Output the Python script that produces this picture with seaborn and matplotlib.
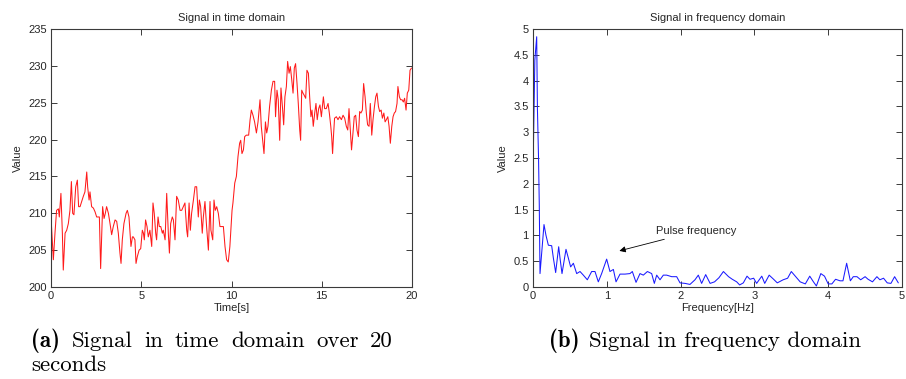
import numpy as np
import pandas as pd
import matplotlib
matplotlib.use("Agg")
import matplotlib.pyplot as plt
import seaborn as sns

# ---------------- data ----------------
time_s = [
    0.00, 0.13, 0.22, 0.31, 0.41, 0.46, 0.55, 0.63, 0.68, 0.78, 0.87, 0.96, 1.05, 1.13, 1.20, 1.27,
    1.37, 1.46, 1.53, 1.61, 1.70, 1.79, 1.88, 1.98, 2.03, 2.11, 2.16, 2.25, 2.35, 2.44, 2.53, 2.62,
    2.68, 2.75, 2.81, 2.86, 2.94, 3.01, 3.08, 3.18, 3.27, 3.36, 3.45, 3.55, 3.64, 3.73, 3.82, 3.88,
    3.95, 4.04, 4.16, 4.23, 4.32, 4.38, 4.43, 4.51, 4.56, 4.65, 4.71, 4.78, 4.88, 4.97, 5.06, 5.12,
    5.17, 5.24, 5.32, 5.39, 5.48, 5.58, 5.65, 5.72, 5.80, 5.85, 5.93, 6.00, 6.08, 6.17, 6.22, 6.32,
    6.41, 6.50, 6.56, 6.63, 6.72, 6.78, 6.87, 6.96, 7.05, 7.15, 7.24, 7.33, 7.42, 7.52, 7.57, 7.65,
    7.72, 7.79, 7.89, 7.98, 8.07, 8.16, 8.22, 8.29, 8.38, 8.44, 8.53, 8.62, 8.72, 8.81, 8.86, 8.96,
    9.03, 9.10, 9.18, 9.27, 9.36, 9.46, 9.55, 9.64, 9.73, 9.82, 9.91, 9.96,
    10.03, 10.08, 10.18, 10.27, 10.36, 10.45, 10.51, 10.58, 10.66, 10.73, 10.82, 10.95, 11.03, 11.10,
    11.19, 11.28, 11.38, 11.47, 11.58, 11.65, 11.73, 11.80, 11.88, 11.95, 12.02, 12.11, 12.21, 12.30,
    12.39, 12.44, 12.52, 12.59, 12.67, 12.74, 12.82, 12.89, 12.96, 13.04, 13.11, 13.19, 13.26, 13.33,
    13.41, 13.48, 13.55, 13.63, 13.70, 13.78, 13.83, 13.89, 13.96, 14.03, 14.11, 14.18, 14.26, 14.33,
    14.40, 14.46, 14.53, 14.61, 14.68, 14.75, 14.83, 14.90, 14.98,
    15.09, 15.16, 15.25, 15.35, 15.42, 15.50, 15.55, 15.60, 15.66, 15.71, 15.81, 15.90, 15.99, 16.09,
    16.18, 16.27, 16.36, 16.44, 16.51, 16.58, 16.65, 16.73, 16.80, 16.88, 16.95, 17.03, 17.10, 17.17,
    17.25, 17.32, 17.40, 17.47, 17.54, 17.62, 17.69, 17.77, 17.84, 17.92, 17.99, 18.06, 18.14, 18.21,
    18.29, 18.36, 18.44, 18.51, 18.58, 18.66, 18.73, 18.80, 18.88, 18.95, 19.02, 19.09, 19.17, 19.22,
    19.30, 19.37, 19.45, 19.52, 19.59, 19.67, 19.74, 19.82, 19.89, 19.97,
]
signal_value = [
    209.5, 203.7, 207.3, 210.4, 210.6, 209.5, 212.7, 207.3, 202.3, 207.3, 207.7, 208.6, 210.4, 214.3, 210.0, 209.8,
    213.6, 214.5, 210.9, 210.9, 211.6, 212.3, 212.9, 215.6, 213.6, 211.8, 212.9, 210.9, 210.7, 210.2, 209.5, 209.5,
    209.5, 202.5, 207.3, 210.9, 209.3, 210.0, 210.9, 210.0, 208.6, 207.1, 208.2, 209.1, 208.9, 207.3, 204.6, 203.2,
    206.4, 208.6, 210.0, 210.4, 209.5, 207.3, 205.5, 206.8, 206.8, 206.4, 203.2, 204.1, 205.0, 205.2, 207.7, 207.3,
    206.4, 209.1, 208.2, 206.8, 207.7, 205.5, 211.4, 210.0, 207.3, 206.4, 209.5, 208.2, 208.2, 207.3, 207.7, 206.4,
    212.7, 207.3, 204.6, 208.6, 209.5, 209.1, 206.4, 212.3, 211.8, 210.4, 210.4, 210.9, 211.4, 207.7, 206.8, 211.4,
    207.7, 210.0, 211.8, 213.6, 213.6, 209.5, 211.8, 210.9, 207.3, 209.5, 211.6, 208.2, 205.0, 211.6, 207.7, 206.4,
    211.8, 210.4, 210.9, 210.0, 208.2, 208.2, 208.2, 205.5, 203.7, 203.4, 205.5, 207.5,
    210.4, 211.4, 214.1, 215.0, 217.7, 219.5, 219.9, 218.1, 218.6, 220.4, 220.6, 220.6, 222.7, 224.0,
    223.3, 222.4, 220.9, 222.4, 225.4, 221.8, 219.9, 218.1, 222.4, 220.9, 221.8, 224.5, 226.7, 227.9,
    227.9, 223.1, 226.7, 225.4, 219.9, 227.0, 224.5, 222.0, 225.8, 227.2, 230.6, 229.0, 229.9, 228.3,
    226.3, 229.7, 230.3, 227.6, 224.9, 221.3, 219.9, 226.7, 226.3, 226.0, 225.6, 229.4, 229.0, 225.8,
    223.1, 224.0, 221.8, 223.6, 224.9, 222.7, 224.2, 224.7, 223.1,
    225.8, 224.2, 224.2, 224.9, 223.6, 221.8, 220.4, 218.1, 220.9, 222.9, 223.1, 222.7, 223.1, 222.7,
    223.3, 222.9, 221.8, 221.3, 224.2, 221.3, 218.6, 220.9, 223.1, 223.3, 221.3, 220.4, 223.8, 223.6,
    224.0, 227.6, 225.8, 223.6, 222.0, 221.8, 224.9, 220.6, 222.7, 224.5, 225.8, 226.3, 224.5, 223.8,
    224.0, 222.9, 223.6, 222.4, 222.7, 223.1, 221.8, 219.5, 221.8, 223.1, 223.6, 223.8, 224.9, 227.2,
    225.8, 225.4, 225.4, 225.1, 225.6, 224.0, 226.3, 226.7, 229.4, 229.7,
]

freq_hz = [
    0.000, 0.005, 0.025, 0.050, 0.060, 0.075, 0.085, 0.095, 0.149, 0.176, 0.208, 0.253, 0.276, 0.307,
    0.348, 0.366, 0.393, 0.447, 0.479, 0.510, 0.547, 0.592, 0.637, 0.682, 0.736, 0.795, 0.840, 0.885,
    0.930, 0.998, 1.043, 1.089, 1.125, 1.179, 1.247, 1.314, 1.346, 1.396, 1.450, 1.495, 1.550, 1.608,
    1.644, 1.676, 1.721, 1.766, 1.811, 1.879, 1.947, 1.992, 2.060, 2.127, 2.195, 2.240, 2.285, 2.340,
    2.400, 2.460, 2.520, 2.580, 2.650, 2.700, 2.760, 2.800, 2.850, 2.900, 2.940, 2.990, 3.030, 3.100,
    3.140, 3.200, 3.260, 3.310, 3.390, 3.450, 3.500, 3.560, 3.620, 3.690, 3.750, 3.800, 3.840, 3.900,
    3.950, 4.000, 4.050, 4.100, 4.160, 4.200, 4.250, 4.300, 4.340, 4.390, 4.440, 4.500, 4.540, 4.600,
    4.660, 4.700, 4.750, 4.800, 4.850, 4.900, 4.950,
]
freq_value = [
    0.90, 2.65, 4.40, 4.85, 3.45, 2.50, 1.60, 0.26, 1.21, 1.00, 0.81, 0.80, 0.56, 0.28,
    0.78, 0.56, 0.26, 0.73, 0.56, 0.39, 0.46, 0.26, 0.30, 0.23, 0.14, 0.30, 0.30, 0.10,
    0.26, 0.54, 0.30, 0.34, 0.10, 0.25, 0.25, 0.26, 0.30, 0.09, 0.26, 0.23, 0.30, 0.26,
    0.07, 0.23, 0.14, 0.23, 0.23, 0.20, 0.20, 0.08, 0.07, 0.05, 0.14, 0.23, 0.07, 0.24,
    0.07, 0.10, 0.18, 0.30, 0.20, 0.15, 0.10, 0.04, 0.08, 0.21, 0.15, 0.17, 0.07, 0.21,
    0.07, 0.23, 0.15, 0.08, 0.14, 0.17, 0.30, 0.20, 0.10, 0.06, 0.21, 0.10, 0.02, 0.26,
    0.21, 0.06, 0.06, 0.15, 0.12, 0.12, 0.46, 0.12, 0.20, 0.20, 0.14, 0.20, 0.15, 0.10,
    0.20, 0.14, 0.17, 0.08, 0.07, 0.20, 0.08,
]

time_ticks = [0, 5, 10, 15, 20]
value_ticks_a = [200, 205, 210, 215, 220, 225, 230, 235]
freq_ticks = [0, 1, 2, 3, 4, 5]
value_ticks_b = [0, 0.5, 1, 1.5, 2, 2.5, 3, 3.5, 4, 4.5, 5]
value_tick_labels_b = ["0", "0.5", "1", "1.5", "2", "2.5", "3", "3.5", "4", "4.5", "5"]

caption_a_tag = "(a)"
caption_a_line1 = "Signal in time domain over 20"
caption_a_line2 = "seconds"
caption_b_tag = "(b)"
caption_b_text = "Signal in frequency domain"

df_time = pd.DataFrame({"Time[s]": time_s, "Value": signal_value})
df_freq = pd.DataFrame({"Frequency[Hz]": freq_hz, "Value": freq_value})

# ---------------- style ----------------
sns.set_theme(style="ticks")
plt.rcParams["font.family"] = ["Liberation Sans", "DejaVu Sans"]
plt.rcParams["axes.unicode_minus"] = False

W, H = 906, 379
fig = plt.figure(figsize=(W / 100, H / 100), dpi=100)
fig.patch.set_facecolor("white")


def frac_axes(x0, y0, x1, y1):
    return fig.add_axes([x0 / W, 1 - y1 / H, (x1 - x0) / W, (y1 - y0) / H])


ax1 = frac_axes(51, 29, 412, 287)
ax2 = frac_axes(533, 29, 902, 287)

tick_fs = 8
text_col = "#262626"

sns.lineplot(data=df_time, x="Time[s]", y="Value", ax=ax1, color="#ff1a1a",
             linewidth=0.75, estimator=None, sort=False)
sns.lineplot(data=df_freq, x="Frequency[Hz]", y="Value", ax=ax2, color="#1a1aff",
             linewidth=0.75, estimator=None, sort=False)

for ax in (ax1, ax2):
    ax.set_facecolor("white")
    for sp in ax.spines.values():
        sp.set_visible(True)
        sp.set_color("#3a3a3a")
        sp.set_linewidth(0.8)
    ax.tick_params(direction="in", length=4, width=0.7, color="#3a3a3a",
                   labelsize=tick_fs, labelcolor=text_col, top=True, right=True, pad=3)
    ax.grid(False)

ax1.set_xlim(0, 20)
ax1.set_ylim(200, 235)
ax1.set_xticks(time_ticks)
ax1.set_xticklabels([str(t) for t in time_ticks])
ax1.set_yticks(value_ticks_a)
ax1.set_yticklabels([str(v) for v in value_ticks_a])
ax1.set_xlabel("Time[s]", fontsize=tick_fs, color=text_col, labelpad=1)
ax1.set_ylabel("Value", fontsize=tick_fs, color=text_col, labelpad=4)
ax1.set_title("Signal in time domain", fontsize=tick_fs, color=text_col, pad=6)

ax2.set_xlim(0, 5)
ax2.set_ylim(0, 5)
ax2.set_xticks(freq_ticks)
ax2.set_xticklabels([str(t) for t in freq_ticks])
ax2.set_yticks(value_ticks_b)
ax2.set_yticklabels(value_tick_labels_b)
ax2.set_xlabel("Frequency[Hz]", fontsize=tick_fs, color=text_col, labelpad=1)
ax2.set_ylabel("Value", fontsize=tick_fs, color=text_col, labelpad=4)
ax2.set_title("Signal in frequency domain", fontsize=tick_fs, color=text_col, pad=6)

ax2.annotate("Pulse frequency", xy=(1.17, 0.70), xytext=(1.67, 1.085),
             fontsize=tick_fs, color=text_col, va="center", ha="left",
             arrowprops=dict(arrowstyle="-|>", color="black", lw=0.6,
                             mutation_scale=9, shrinkA=0, shrinkB=0))

# ---------------- captions (LaTeX-like, justified first line) ----------------
cap_fs = 16.5
renderer = fig.canvas.get_renderer()


def put(x_px, y_px, s, bold=False, ha="left"):
    return fig.text(x_px / W, 1 - y_px / H, s, fontfamily="cmb10" if bold else "cmr10",
                    fontsize=cap_fs, ha=ha, va="baseline", color="black")


# (a) first line justified between x=31 and x=393
base1, base2 = 347, 371
tag = put(31, base1, caption_a_tag, bold=True)
words = caption_a_line1.split(" ")
word_txts = [put(0, base1, w) for w in words]
fig.canvas.draw()
tag_w = tag.get_window_extent(renderer=renderer).width
ws = [t.get_window_extent(renderer=renderer).width for t in word_txts]
left, right = 31, 393
gap = (right - left - tag_w - sum(ws)) / len(words)
x = left + tag_w + gap
for t, w in zip(word_txts, ws):
    t.set_x(x / W)
    x += w + gap
put(31, base2, caption_a_line2)

# (b) centred caption
tag_b = put(0, base1, caption_b_tag, bold=True)
txt_b = put(0, base1, caption_b_text)
fig.canvas.draw()
wb1 = tag_b.get_window_extent(renderer=renderer).width
wb2 = txt_b.get_window_extent(renderer=renderer).width
space = 9
total = wb1 + space + wb2
xb = 705 - total / 2
tag_b.set_x(xb / W)
txt_b.set_x((xb + wb1 + space) / W)

fig.savefig("out.png", dpi=100, facecolor="white")
